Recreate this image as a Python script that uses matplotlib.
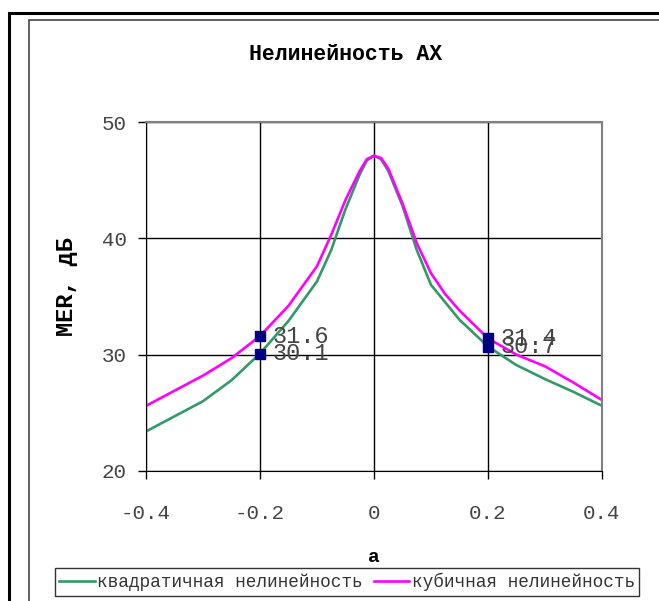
import numpy as np
import matplotlib.pyplot as plt
from matplotlib.patches import Rectangle

plt.rcParams['font.family'] = ['Liberation Mono', 'DejaVu Sans Mono']

# данные
a = [-0.4, -0.35, -0.3, -0.25, -0.2, -0.15, -0.1, -0.075, -0.05, -0.025, -0.0125, 0.0,
     0.0125, 0.025, 0.05, 0.075, 0.1, 0.125, 0.15, 0.2, 0.25, 0.3, 0.35, 0.4]
mer_kv = [23.4, 24.7, 26.0, 27.8, 30.1, 32.9, 36.3, 39.0, 42.5, 45.5, 46.7, 47.1,
          46.8, 45.8, 42.8, 39.0, 36.0, 34.5, 33.0, 30.7, 29.1, 27.9, 26.8, 25.6]
mer_kub = [25.6, 26.9, 28.2, 29.7, 31.6, 34.2, 37.6, 40.3, 43.3, 45.8, 46.8, 47.1,
           46.9, 46.0, 43.0, 39.6, 37.0, 35.2, 33.8, 31.4, 30.0, 29.0, 27.6, 26.1]
pt_a = [-0.2, -0.2, 0.2, 0.2]
pt_v = [31.6, 30.1, 31.4, 30.7]

xticks = [-0.4, -0.2, 0, 0.2, 0.4]
xticklabels = ["-0.4", "-0.2", "0", "0.2", "0.4"]
yticks = [20, 30, 40, 50]

W, H = 659, 601
fig = plt.figure(figsize=(W / 100, H / 100), dpi=100)
ax = fig.add_axes([146 / W, 1 - 471 / H, 456 / W, 349 / H])

ax.plot(a, mer_kv, color="#339966", lw=1.9, label="квадратичная нелинейность")
ax.plot(a, mer_kub, color="#FF00FF", lw=1.9, label="кубичная нелинейность")
ax.plot(pt_a, pt_v, "s", color="#000080", ms=7.5, zorder=5)
for xa, yv in zip(pt_a, pt_v):
    ax.annotate(f"{yv:.1f}", (xa, yv), xytext=(9, 0), textcoords="offset points",
                va="center", ha="left", fontsize=17, color="#444444", zorder=6)

ax.set_xlim(-0.4, 0.4)
ax.set_ylim(20, 50)
ax.set_xticks(xticks)
ax.set_xticklabels(xticklabels)
ax.set_yticks(yticks)
ax.tick_params(labelsize=15, length=6, width=1, direction="out", colors="#444444")
ax.tick_params(axis="both", color="black")
ax.tick_params(axis="x", pad=18)
ax.tick_params(axis="y", pad=8)
ax.grid(True, color="black", lw=1)
for s in ["left", "bottom"]:
    ax.spines[s].set_color("black")
for s in ["top", "right"]:
    ax.spines[s].set_color("#808080")
    ax.spines[s].set_linewidth(1.5)

fig.text(346 / W, 1 - 55 / H, "Нелинейность АХ", ha="center", va="center",
         fontsize=15.5, fontweight="bold")
fig.text(66 / W, 1 - 287 / H, "MER, дБ", ha="center", va="center", rotation=90,
         fontsize=17, fontweight="bold")
fig.text(374 / W, 1 - 557 / H, "a", ha="center", va="center", fontsize=14, fontweight="bold")

leg = fig.legend(loc="center", bbox_to_anchor=(347 / W, 1 - 582 / H), ncol=2,
                 fontsize=12.8, frameon=True, fancybox=False, edgecolor="black",
                 handlelength=2.0, handletextpad=0.15, columnspacing=0.6,
                 borderpad=0.25)
leg.get_frame().set_linewidth(1)
for t in leg.get_texts():
    t.set_color("#333333")

# рамки
fig.patches.append(Rectangle((9 / W, -0.1), 2, 1 - 13 / H + 0.1, transform=fig.transFigure,
                             fill=False, edgecolor="black", lw=2.2))
fig.patches.append(Rectangle((29 / W, -0.1), 2, 1 - 20 / H + 0.1, transform=fig.transFigure,
                             fill=False, edgecolor="#444444", lw=1.2))

fig.savefig("out.png", dpi=100)
